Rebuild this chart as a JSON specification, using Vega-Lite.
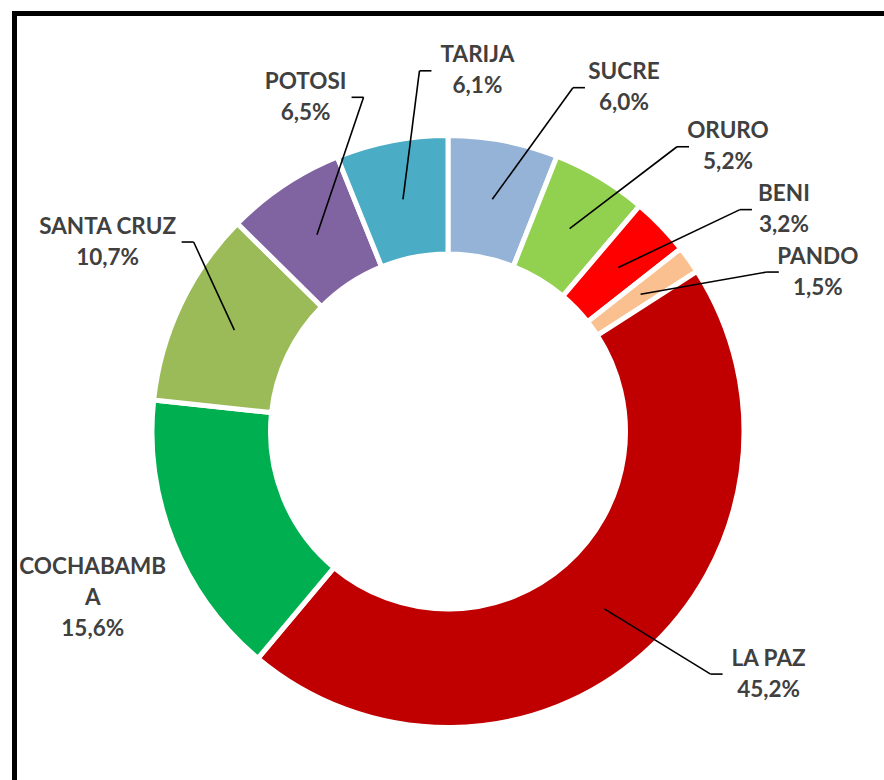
{
  "$schema": "https://vega.github.io/schema/vega-lite/v6.json",
  "usermeta": {"embedOptions": {"actions": false}},
  "autosize": {"type": "none"},
  "padding": {"left": 14.5, "top": 13.5, "right": 0, "bottom": 0},
  "width": 869.5,
  "height": 766.5,
  "background": "white",
  "config": {
    "view": {"stroke": null}
  },
  "data": {
    "values": [
      {"name": "SUCRE", "label": "SUCRE", "value": 6.0, "order": 1},
      {"name": "ORURO", "label": "ORURO", "value": 5.2, "order": 2},
      {"name": "BENI", "label": "BENI", "value": 3.2, "order": 3},
      {"name": "PANDO", "label": "PANDO", "value": 1.5, "order": 4},
      {"name": "LA PAZ", "label": "LA PAZ", "value": 45.2, "order": 5},
      {"name": "COCHABAMBA", "label": "COCHABAMB\nA", "value": 15.6, "order": 6},
      {"name": "SANTA CRUZ", "label": "SANTA CRUZ", "value": 10.7, "order": 7},
      {"name": "POTOSI", "label": "POTOSI", "value": 6.5, "order": 8},
      {"name": "TARIJA", "label": "TARIJA", "value": 6.1, "order": 9}
    ]
  },
  "transform": [
    {"joinaggregate": [{"op": "sum", "field": "value", "as": "total"}]},
    {"window": [{"op": "sum", "field": "value", "as": "cum"}], "sort": [{"field": "order"}], "frame": [null, 0]},
    {"calculate": "(datum.cum - datum.value / 2) / datum.total * 2 * PI", "as": "mid"},
    {"window": [{"op": "lag", "field": "mid", "as": "prevMid"}], "sort": [{"field": "order"}]},
    {"calculate": "datum.mid + 0.27 * cos(datum.mid)", "as": "fm"},
    {"calculate": "datum.prevMid == null ? datum.fm : max(datum.fm, datum.prevMid + 0.27 * cos(datum.prevMid) + 0.18)", "as": "la"},
    {"calculate": "1 + 0.16 * max(sin(datum.la), 0)", "as": "k"},
    {"calculate": "1.37 * sin(datum.la)", "as": "lx"},
    {"calculate": "1.22 * datum.k * cos(datum.la)", "as": "ly"},
    {"calculate": "replace(format(datum.value, '.1f'), '.', ',') + '%'", "as": "pct"},
    {"calculate": "datum.label + '\\n' + datum.pct", "as": "txt"},
    {"calculate": "datum.ly + (length(split(datum.txt, '\\n')) - 1) * 15.5 / 293", "as": "ty"},
    {"calculate": "(7 * max(length(split(datum.label, '\\n')[0]), length(datum.pct)) + 4) / 293", "as": "hw"},
    {"calculate": "sin(datum.la) >= 0 ? 1 : -1", "as": "sg"},
    {"calculate": "datum.lx - datum.sg * datum.hw", "as": "ex"},
    {"calculate": "datum.ex - datum.sg * 12 / 293", "as": "kx"},
    {"calculate": "0.807 * sin(datum.mid)", "as": "sx"},
    {"calculate": "0.807 * cos(datum.mid)", "as": "sy"}
  ],
  "layer": [
    {
      "mark": {"type": "arc", "outerRadius": 296, "innerRadius": 177.5, "stroke": "white", "strokeWidth": 5},
      "encoding": {
        "theta": {"field": "value", "type": "quantitative", "stack": true},
        "order": {"field": "order", "type": "quantitative"},
        "color": {
          "field": "name", "type": "nominal", "legend": null,
          "scale": {
            "domain": ["SUCRE", "ORURO", "BENI", "PANDO", "LA PAZ", "COCHABAMBA", "SANTA CRUZ", "POTOSI", "TARIJA"],
            "range": ["#95B3D7", "#92D050", "#FF0000", "#FAC090", "#C00000", "#00B050", "#9BBB59", "#8064A2", "#4BACC6"]
          }
        },
        "x": {"datum": 0, "type": "quantitative", "axis": null, "scale": {"domain": [-1.47952, 1.48805], "nice": false, "zero": false}},
        "y": {"datum": 0, "type": "quantitative", "axis": null, "scale": {"domain": [-1.18942, 1.42662], "nice": false, "zero": false}}
      }
    },
    {
      "transform": [{"filter": "datum.name != 'COCHABAMBA'"}],
      "mark": {"type": "rule", "stroke": "black", "strokeWidth": 1.6},
      "encoding": {
        "x": {"field": "sx", "type": "quantitative", "axis": null, "scale": {"domain": [-1.47952, 1.48805], "nice": false, "zero": false}},
        "y": {"field": "sy", "type": "quantitative", "axis": null, "scale": {"domain": [-1.18942, 1.42662], "nice": false, "zero": false}},
        "x2": {"field": "kx"},
        "y2": {"field": "ly"}
      }
    },
    {
      "transform": [{"filter": "datum.name != 'COCHABAMBA'"}],
      "mark": {"type": "rule", "stroke": "black", "strokeWidth": 1.6},
      "encoding": {
        "x": {"field": "kx", "type": "quantitative", "axis": null, "scale": {"domain": [-1.47952, 1.48805], "nice": false, "zero": false}},
        "y": {"field": "ly", "type": "quantitative", "axis": null, "scale": {"domain": [-1.18942, 1.42662], "nice": false, "zero": false}},
        "x2": {"field": "ex"}
      }
    },
    {
      "mark": {"type": "text", "font": "Lato", "fontWeight": "bold", "fontSize": 22.5, "lineHeight": 31, "color": "#404040", "align": "center", "baseline": "middle", "lineBreak": "\n"},
      "encoding": {
        "x": {"field": "lx", "type": "quantitative", "axis": null, "scale": {"domain": [-1.47952, 1.48805], "nice": false, "zero": false}},
        "y": {"field": "ty", "type": "quantitative", "axis": null, "scale": {"domain": [-1.18942, 1.42662], "nice": false, "zero": false}},
        "text": {"field": "txt"}
      }
    },
    {
      "mark": {"type": "rule", "stroke": "black", "strokeWidth": 5, "strokeCap": "square"},
      "encoding": {
        "x": {"datum": -1.47952, "type": "quantitative", "axis": null, "scale": {"domain": [-1.47952, 1.48805], "nice": false, "zero": false}},
        "x2": {"datum": 1.48805},
        "y": {"datum": 1.42662, "type": "quantitative", "axis": null, "scale": {"domain": [-1.18942, 1.42662], "nice": false, "zero": false}}
      }
    },
    {
      "mark": {"type": "rule", "stroke": "black", "strokeWidth": 5, "strokeCap": "square"},
      "encoding": {
        "x": {"datum": -1.47952, "type": "quantitative", "axis": null, "scale": {"domain": [-1.47952, 1.48805], "nice": false, "zero": false}},
        "y": {"datum": -1.18942, "type": "quantitative", "axis": null, "scale": {"domain": [-1.18942, 1.42662], "nice": false, "zero": false}},
        "y2": {"datum": 1.42662}
      }
    }
  ]
}
